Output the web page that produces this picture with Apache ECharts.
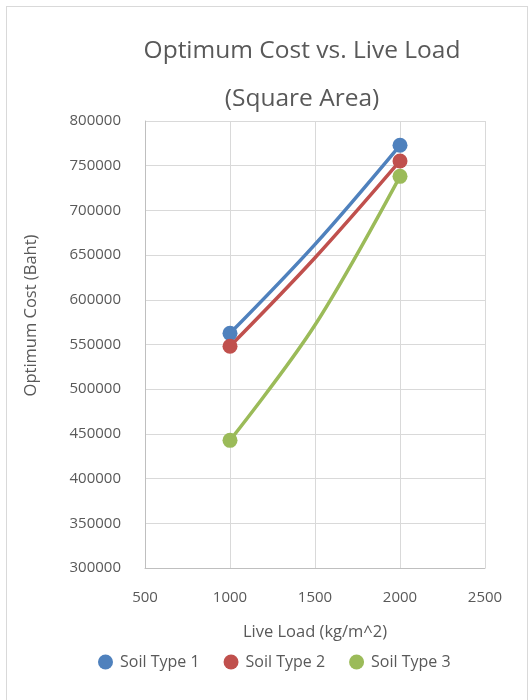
<!DOCTYPE html>
<html>
<head>
<meta charset="utf-8">
<script src="https://cdn.jsdelivr.net/npm/echarts@6/dist/echarts.min.js"></script>
<style>
  html, body { margin: 0; padding: 0; background: #fff; }
  #frame { position: absolute; left: 6px; top: 6px; width: 522px; height: 700px; border: 1px solid #d9d9d9; box-sizing: border-box; }
  #chart { position: absolute; left: 0; top: 0; width: 531px; height: 700px; }
</style>
</head>
<body>
<div id="frame"></div>
<div id="chart"></div>
<script>
// Live load (kg/m^2); the 1500 point is a curve-shaping point drawn without a marker
const liveLoad = [1000, 1500, 2000];
const soilType1 = [562500, 662000, 772800];
const soilType2 = [548000, 647000, 755300];
const soilType3 = [442800, 571800, 738100];
const seriesNames = ['Soil Type 1', 'Soil Type 2', 'Soil Type 3'];
const seriesColors = ['#4F81BD', '#C0504D', '#9BBB59'];
const titleLines = ['Optimum Cost vs. Live Load', '(Square Area)'];

const FONT = '"Open Sans", sans-serif';
const GREY = '#595959';

function buildSeries(name, values, color) {
  return {
    name: name,
    type: 'line',
    smooth: 0.35,
    color: color,
    symbol: 'circle',
    symbolSize: 15,
    lineStyle: { width: 3.5, color: color },
    itemStyle: { color: color },
    data: liveLoad.map((x, i) => {
      const item = { value: [x, values[i]] };
      if (x === 1500) item.symbol = 'none';
      return item;
    })
  };
}

const chart = echarts.init(document.getElementById('chart'));
chart.setOption({
  animation: false,
  title: [
    { text: titleLines[0], left: 297, top: 34, textAlign: 'center',
      textStyle: { fontFamily: FONT, fontWeight: 'normal', fontSize: 24.5, color: GREY } },
    { text: titleLines[1], left: 297, top: 82, textAlign: 'center',
      textStyle: { fontFamily: FONT, fontWeight: 'normal', fontSize: 24.5, color: GREY } }
  ],
  legend: {
    data: seriesNames,
    top: 649,
    left: 93,
    icon: 'circle',
    itemWidth: 15,
    itemHeight: 15,
    itemGap: 24,
    textStyle: { fontFamily: FONT, fontSize: 16, color: GREY, padding: [0, 0, 0, 2] }
  },
  grid: { left: 145, right: 46, top: 121, bottom: 132, containLabel: false },
  xAxis: {
    type: 'value',
    min: 500, max: 2500, interval: 500,
    name: 'Live Load (kg/m^2)',
    nameLocation: 'middle',
    nameGap: 56,
    nameTextStyle: { fontFamily: FONT, fontSize: 16.5, color: GREY },
    axisLine: { show: true, lineStyle: { color: '#BFBFBF', width: 1 } },
    axisTick: { show: false },
    axisLabel: { fontFamily: FONT, fontSize: 15, color: GREY, margin: 22,
      formatter: v => String(v) },
    splitLine: { show: true, lineStyle: { color: '#D9D9D9', width: 1 } }
  },
  yAxis: {
    type: 'value',
    min: 300000, max: 800000, interval: 50000,
    name: 'Optimum Cost (Baht)',
    nameLocation: 'middle',
    nameGap: 105,
    nameTextStyle: { fontFamily: FONT, fontSize: 16.5, color: GREY, padding: [0, 0, 0, 58] },
    axisLine: { show: true, lineStyle: { color: '#BFBFBF', width: 1 } },
    axisTick: { show: false },
    axisLabel: { fontFamily: FONT, fontSize: 15, color: GREY, margin: 24,
      formatter: v => String(v) },
    splitLine: { show: true, lineStyle: { color: '#D9D9D9', width: 1 } }
  },
  series: [
    buildSeries(seriesNames[0], soilType1, seriesColors[0]),
    buildSeries(seriesNames[1], soilType2, seriesColors[1]),
    buildSeries(seriesNames[2], soilType3, seriesColors[2])
  ]
});
</script>
</body>
</html>
